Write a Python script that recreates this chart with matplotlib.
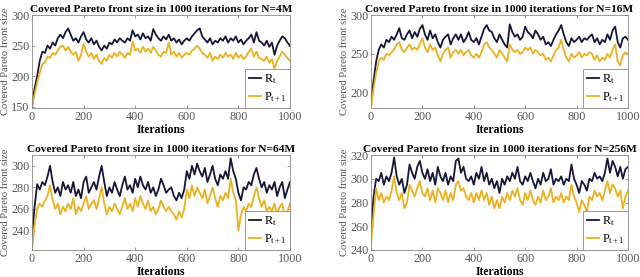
import matplotlib
matplotlib.use("Agg")
import matplotlib.pyplot as plt

plt.rcParams['font.family'] = ['Liberation Serif', 'DejaVu Serif']
plt.rcParams['mathtext.fontset'] = 'custom'
plt.rcParams['mathtext.rm'] = 'Liberation Serif'
plt.rcParams['mathtext.it'] = 'Liberation Serif'

iterations = list(range(0, 1001, 10))

titles = ["Covered Pareto front size in 1000 iterations for N=4M",
          "Covered Pareto front size in 1000 iterations for N=16M",
          "Covered Pareto front size in 1000 iterations for N=64M",
          "Covered Pareto front size in 1000 iterations for N=256M"]

R_4M = [150, 180, 200, 225, 240, 238, 250, 245, 255, 250, 262, 268, 262, 272, 278, 268, 258, 262, 255, 265,
        272, 260, 255, 262, 252, 258, 248, 242, 250, 245, 255, 252, 260, 255, 262, 258, 255, 262, 258, 275,
        265, 268, 260, 270, 262, 265, 258, 277, 268, 262, 258, 265, 260, 268, 258, 262, 255, 260, 252, 258,
        262, 258, 265, 270, 275, 278, 265, 260, 255, 262, 252, 258, 255, 262, 258, 265, 255, 262, 258, 265,
        255, 260, 252, 258, 262, 268, 255, 272, 258, 255, 250, 258, 248, 255, 235, 250, 258, 265, 262, 255, 250]
P_4M = [150, 170, 190, 205, 220, 222, 232, 230, 238, 235, 242, 248, 250, 242, 248, 240, 235, 240, 225, 235,
        253, 240, 232, 238, 228, 235, 225, 220, 230, 225, 235, 230, 238, 232, 240, 235, 230, 238, 235, 257,
        242, 245, 238, 248, 240, 245, 238, 248, 242, 235, 232, 240, 238, 255, 235, 240, 232, 238, 230, 235,
        238, 235, 242, 245, 250, 245, 238, 235, 230, 238, 225, 232, 228, 235, 230, 238, 232, 235, 228, 238,
        230, 235, 228, 232, 240, 245, 232, 240, 230, 228, 225, 232, 222, 228, 212, 225, 232, 240, 235, 230, 225]

R_16M = [190, 215, 240, 255, 262, 258, 268, 265, 272, 268, 275, 283, 270, 268, 275, 280, 270, 278, 272, 282,
         287, 275, 268, 280, 270, 275, 265, 258, 268, 272, 275, 262, 270, 275, 268, 275, 265, 270, 278, 268,
         265, 270, 262, 272, 282, 287, 280, 278, 270, 265, 275, 268, 262, 258, 288, 278, 272, 275, 268, 272,
         285, 278, 275, 270, 280, 275, 268, 272, 262, 265, 260, 268, 275, 280, 287, 275, 265, 260, 270, 265,
         268, 272, 265, 270, 268, 272, 275, 265, 270, 262, 268, 265, 275, 268, 280, 285, 265, 258, 270, 272, 268]
P_16M = [180, 205, 225, 240, 245, 242, 250, 248, 252, 255, 262, 265, 255, 252, 258, 262, 255, 258, 255, 262,
         270, 258, 252, 262, 255, 258, 248, 240, 250, 255, 258, 245, 252, 255, 250, 255, 248, 252, 255, 248,
         245, 250, 245, 252, 262, 265, 258, 255, 250, 245, 255, 250, 245, 240, 262, 255, 252, 255, 250, 252,
         258, 255, 258, 250, 255, 252, 248, 250, 242, 245, 240, 248, 255, 258, 268, 255, 245, 240, 250, 245,
         248, 252, 245, 250, 248, 252, 250, 242, 248, 240, 245, 242, 250, 245, 255, 262, 240, 235, 248, 252, 250]

R_64M = [235, 262, 283, 278, 285, 282, 290, 300, 285, 275, 280, 272, 285, 278, 282, 275, 285, 272, 278, 270,
         285, 290, 275, 280, 285, 278, 290, 300, 285, 272, 280, 275, 285, 278, 272, 282, 290, 278, 282, 275,
         288, 280, 290, 282, 278, 285, 275, 280, 272, 278, 288, 282, 275, 278, 280, 272, 268, 275, 270, 278,
         295, 288, 300, 292, 302, 295, 290, 298, 285, 292, 300, 288, 282, 292, 288, 295, 288, 307, 295, 288,
         275, 268, 280, 278, 285, 282, 292, 298, 288, 280, 285, 275, 282, 278, 285, 272, 280, 285, 270, 278, 285]
P_64M = [222, 245, 260, 265, 262, 268, 272, 282, 268, 260, 265, 255, 262, 258, 265, 260, 270, 255, 262, 258,
         265, 272, 260, 265, 268, 260, 270, 280, 265, 255, 262, 258, 265, 260, 255, 262, 270, 260, 265, 258,
         270, 262, 272, 265, 260, 268, 258, 262, 255, 260, 268, 262, 258, 262, 258, 255, 250, 258, 252, 260,
         278, 270, 282, 272, 280, 275, 270, 278, 265, 272, 280, 270, 262, 272, 268, 275, 270, 288, 275, 268,
         240, 255, 262, 258, 265, 262, 272, 280, 270, 262, 268, 258, 262, 258, 265, 255, 262, 265, 252, 258, 265]

R_256M = [255, 285, 300, 298, 305, 295, 302, 298, 305, 318, 302, 295, 300, 288, 295, 312, 305, 300, 310, 315,
          305, 300, 308, 298, 305, 295, 310, 302, 298, 305, 295, 302, 298, 315, 317, 305, 310, 300, 298, 302,
          295, 305, 300, 310, 298, 305, 295, 300, 292, 298, 288, 300, 295, 302, 298, 305, 300, 310, 298, 295,
          302, 298, 305, 298, 292, 300, 295, 305, 298, 300, 308, 295, 300, 298, 302, 295, 300, 298, 312, 300,
          295, 288, 298, 295, 290, 300, 298, 305, 300, 302, 298, 305, 317, 305, 315, 310, 302, 310, 300, 308, 310]
P_256M = [245, 270, 292, 282, 288, 280, 285, 282, 290, 302, 288, 282, 288, 275, 280, 295, 290, 285, 292, 298,
          288, 285, 292, 282, 290, 280, 292, 288, 282, 290, 280, 288, 282, 295, 298, 290, 292, 285, 282, 288,
          280, 288, 282, 290, 282, 288, 278, 285, 275, 282, 275, 285, 280, 288, 282, 290, 285, 292, 282, 278,
          288, 282, 290, 282, 278, 285, 280, 290, 282, 285, 292, 280, 285, 282, 288, 280, 285, 282, 295, 285,
          280, 272, 282, 278, 272, 285, 282, 290, 285, 288, 282, 290, 298, 288, 295, 292, 285, 290, 275, 285, 290]

series = [(R_4M, P_4M), (R_16M, P_16M), (R_64M, P_64M), (R_256M, P_256M)]
ylims = [(148, 300), (180, 300), (222, 310), (240, 320)]
yticks = [[150, 200, 250, 300], [200, 250, 300], [240, 260, 280, 300], [240, 260, 280, 300, 320]]

R_COLOR = '#161638'
P_COLOR = '#EDB120'
AX_COLOR = '#8c8c8c'
TXT_COLOR = '#555555'

fig = plt.figure(figsize=(6.4, 2.77), dpi=100)
W, H = 640.0, 277.0
boxes = [(32, 15, 290, 108), (371, 15, 628, 108), (32, 155, 290, 250), (371, 155, 628, 250)]

for i, (bx, (r, p)) in enumerate(zip(boxes, series)):
    x0, y0, x1, y1 = bx
    ax = fig.add_axes([x0 / W, 1 - y1 / H, (x1 - x0) / W, (y1 - y0) / H])
    ax.plot(iterations, r, color=R_COLOR, lw=1.3, label=r'R$_\mathregular{t}$')
    ax.plot(iterations, p, color=P_COLOR, lw=1.3, label=r'P$_\mathregular{t+1}$')
    ax.set_xlim(0, 1000)
    ax.set_ylim(*ylims[i])
    ax.set_xticks([0, 200, 400, 600, 800, 1000])
    ax.set_yticks(yticks[i])
    ax.tick_params(direction='in', length=2.5, width=0.6, colors=AX_COLOR, labelcolor=TXT_COLOR,
                   labelsize=8.7, top=True, right=True, pad=2)
    for s in ax.spines.values():
        s.set_color(AX_COLOR)
        s.set_linewidth(0.6)
    ax.set_title(titles[i], fontsize=8.2, fontweight='bold', pad=2)
    ax.set_xlabel('Iterations', fontsize=8.4, fontweight='bold', labelpad=1)
    ax.set_ylabel('Covered Pareto front size', fontsize=7.6, color=TXT_COLOR, labelpad=0.5)
    leg = ax.legend(loc='lower right', fontsize=8.8, handlelength=1.0, handletextpad=0.2,
                    borderpad=0.3, labelspacing=0.35, fancybox=False, framealpha=1,
                    borderaxespad=0.0)
    leg.get_frame().set_edgecolor(AX_COLOR)
    leg.get_frame().set_linewidth(0.6)

fig.savefig('out.png', dpi=100)
